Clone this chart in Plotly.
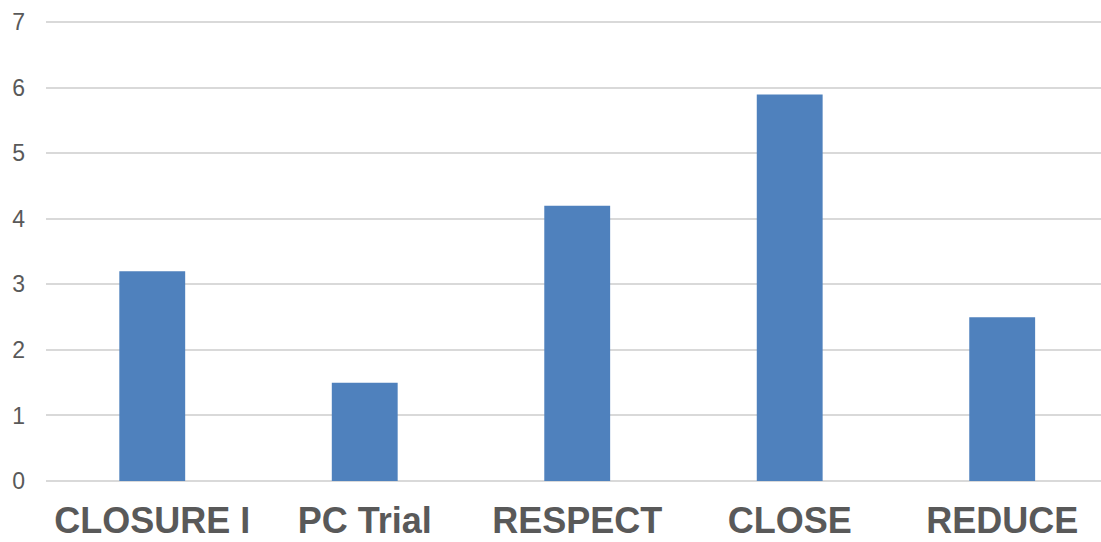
import plotly.graph_objects as go

# Trial names and values
trials = ["CLOSURE I", "PC Trial", "RESPECT", "CLOSE", "REDUCE"]
values = [3.2, 1.5, 4.2, 5.9, 2.5]
y_ticks = [0, 1, 2, 3, 4, 5, 6, 7]

fig = go.Figure(
    go.Bar(
        x=trials,
        y=values,
        marker=dict(color="#4F81BD", line=dict(width=0)),
    )
)

fig.update_layout(
    width=1101,
    height=542,
    margin=dict(l=46, r=0, t=21, b=61),
    paper_bgcolor="white",
    plot_bgcolor="white",
    bargap=0.69,
    showlegend=False,
    font=dict(family="Liberation Sans, Arial, sans-serif", color="#595959"),
)

fig.update_xaxes(
    range=[-0.5, 4.465],
    automargin=False,
    showgrid=False,
    showline=False,
    ticks="",
    tickfont=dict(size=36, family="Liberation Sans, Arial, sans-serif", color="#595959", weight="bold"),
    ticklabelstandoff=15,
)

fig.update_yaxes(
    range=[0, 7.02],
    automargin=False,
    tickvals=y_ticks,
    showgrid=True,
    gridcolor="#D9D9D9",
    gridwidth=1.5,
    zeroline=True,
    zerolinecolor="#D9D9D9",
    zerolinewidth=1.5,
    showline=False,
    ticks="",
    tickfont=dict(size=23, color="#595959"),
    ticklabelstandoff=20,
)

fig.write_html("out.html")
